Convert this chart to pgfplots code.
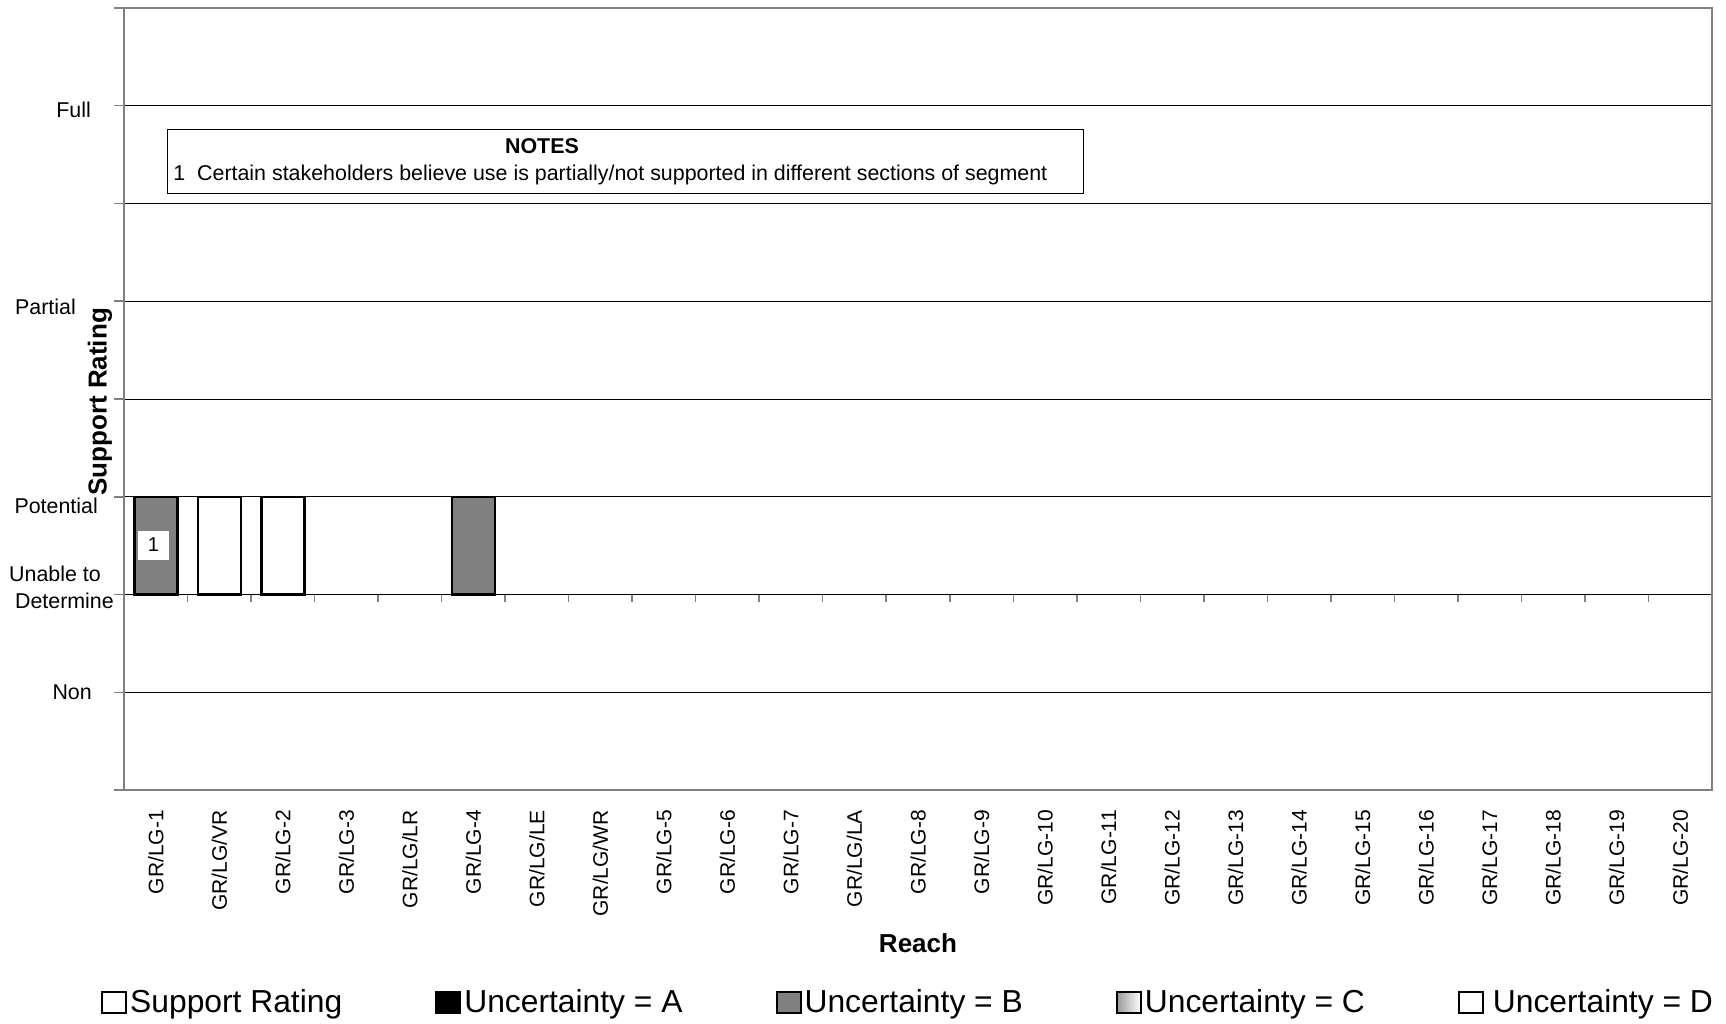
\documentclass[border=0pt]{standalone}
\usepackage{pgfplots}
\pgfplotsset{compat=1.18}
\usepackage{fontspec}
\setmainfont{Liberation Sans}

\definecolor{frame}{RGB}{128,128,128}
\definecolor{uncB}{RGB}{128,128,128}
\newcommand\tickfont{\fontsize{21.4}{27}\selectfont}

\begin{document}
\begin{tikzpicture}
\begin{axis}[
  at={(124pt,233pt)}, anchor=south west,
  scale only axis, width=1588pt, height=782pt,
  xmin=-0.5, xmax=24.5, ymin=0, ymax=8,
  enlargelimits=false,
  ybar stacked, bar width=43pt,
  axis line style={draw=frame, line width=2pt},
  xtick={0,...,24}, xtick pos=bottom, xtick style={draw=none},
  xticklabels={GR/LG-1,GR/LG/VR,GR/LG-2,GR/LG-3,GR/LG/LR,GR/LG-4,GR/LG/LE,GR/LG/WR,GR/LG-5,GR/LG-6,GR/LG-7,GR/LG/LA,GR/LG-8,GR/LG-9,GR/LG-10,GR/LG-11,GR/LG-12,GR/LG-13,GR/LG-14,GR/LG-15,GR/LG-16,GR/LG-17,GR/LG-18,GR/LG-19,GR/LG-20},
  x tick label style={rotate=90, anchor=east, inner sep=0pt, xshift=-10pt, font=\fontsize{21}{24}\selectfont},
  ytick={0,...,8}, ytick pos=left, tick align=outside,
  ytick style={draw=frame, line width=1.5pt}, major tick length=10pt,
  yticklabels={{},
    {\raisebox{-7.7pt}{Non\makebox[22pt]{}}},
    {\raisebox{0pt}{\begin{tabular}{@{}r@{}}Unable to\makebox[13pt]{}\\Determine\end{tabular}}},
    {\raisebox{-16.7pt}{Potential\makebox[16pt]{}}},
    {},
    {\raisebox{-13.2pt}{Partial\makebox[38pt]{}}},
    {},
    {\raisebox{-11.7pt}{Full\makebox[23pt]{}}},
    {}},
  y tick label style={anchor=base east, inner sep=0pt, font=\tickfont, xshift=0pt},
  ymajorgrids, major grid style={black, line width=1pt},
  ylabel={Support Rating},
  ylabel style={font=\bfseries\fontsize{26}{30}\selectfont, at={(axis description cs:-0.0151,0.4962)}, anchor=center},
  xlabel={Reach},
  xlabel style={font=\bfseries\fontsize{26}{30}\selectfont, at={(axis description cs:0.5,-0.1957)}, anchor=center},
  legend columns=5, legend cell align=left,
  legend style={at={(axis description cs:-0.0145,-0.2711)}, anchor=west, draw=none, fill=none, inner sep=0pt,
    font=\fontsize{31.8}{36}\selectfont, nodes={inner xsep=3pt, inner ysep=0pt},
    /tikz/every even column/.append style={column sep=90pt}},
]
% invisible base of the floating bars (they start at "Unable to Determine")
\addplot[draw=none, fill=none, forget plot] coordinates {(0,2) (1,2) (2,2) (5,2)};
% Uncertainty = B
\addplot[fill=uncB, draw=black, line width=2.5pt, forget plot] coordinates {(0,1) (1,0) (2,0) (5,1)};
% Uncertainty = D
\addplot[fill=white, draw=black, line width=2.5pt, forget plot] coordinates {(0,0) (1,1) (2,1) (5,0)};

\addlegendimage{legend image code/.code={\draw[black, line width=2pt, fill=white] (0pt,-10.5pt) rectangle (24pt,10.5pt);}}
\addlegendentry{Support Rating}
\addlegendimage{legend image code/.code={\draw[black, line width=2pt, fill=black] (0pt,-10.5pt) rectangle (24pt,10.5pt);}}
\addlegendentry{Uncertainty = A}
\addlegendimage{legend image code/.code={\draw[black, line width=2pt, fill=uncB] (0pt,-10.5pt) rectangle (24pt,10.5pt);}}
\addlegendentry{Uncertainty = B}
\addlegendimage{legend image code/.code={\shade[left color=gray!80, right color=white] (0pt,-10.5pt) rectangle (24pt,10.5pt); \draw[black, line width=2pt] (0pt,-10.5pt) rectangle (24pt,10.5pt);}}
\addlegendentry{Uncertainty = C}
\addlegendimage{legend image code/.code={\draw[black, line width=2pt, fill=white] (0pt,-10.5pt) rectangle (24pt,10.5pt);}}
\addlegendentry{\hspace{6pt}Uncertainty = D}

% tick marks of the category axis, which crosses at "Unable to Determine"
\pgfplotsinvokeforeach{0,...,24}{\draw[frame, line width=1.5pt] (axis cs:#1+0.5,2) -- ++(0pt,-7pt);}

% where the note flag of the first bar goes
\coordinate (flag) at (axis cs:-0.036,2.506);

% notes box
\draw[black, line width=1pt] (rel axis cs:0.0271,0.8440) rectangle (rel axis cs:0.6045,0.7634);
\node[font=\bfseries\tickfont, inner sep=0pt] at (rel axis cs:0.2632,0.8235) {NOTES};
\node[anchor=base west, font=\tickfont, inner sep=0pt] at (rel axis cs:0.0309,0.7788) {1\hspace{12pt}Certain stakeholders believe use is partially/not supported in different sections of segment};
\end{axis}
\node[fill=white, inner sep=0pt, minimum width=31pt, minimum height=29pt, font=\fontsize{20}{24}\selectfont] at (flag) {1};
\pgfresetboundingbox
\path[use as bounding box] (0,0) rectangle (1726pt,1023pt);
\end{tikzpicture}
\end{document}
